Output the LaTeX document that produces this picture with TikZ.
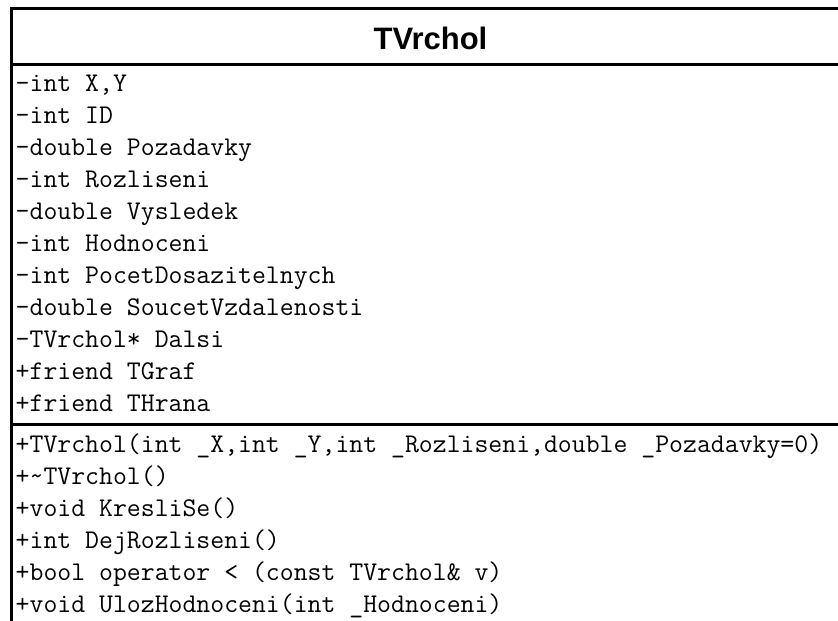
\documentclass[tikz,border=0pt]{standalone}
\usepackage{fontspec}
\newfontfamily\headfam{Liberation Sans}

\begin{document}
\begin{tikzpicture}[x=1pt,y=-1pt,
  member/.style={anchor=base west,inner sep=0pt,font={\ttfamily\fontsize{27}{32}\selectfont}},
  classname/.style={anchor=base,inner sep=0pt,font={\headfam\bfseries\fontsize{31}{36}\selectfont}},
  frame/.style={draw=black,line width=3pt}]

\useasboundingbox (0,0) rectangle (838,621);

% class box, right and bottom edges run off the picture
\begin{scope}
\clip (0,0) rectangle (838,621);
\draw[frame] (11.5,8.5) rectangle (870,660);
\draw[frame] (11.5,64) -- (870,64);
\draw[frame] (11.5,424) -- (870,424);
\end{scope}

\node[classname] (name) at (430.5,49) {TVrchol};

% attributes
\foreach \txt [count=\i] in {{-int X,Y},{-int ID},{-double Pozadavky},{-int Rozliseni},
    {-double Vysledek},{-int Hodnoceni},{-int PocetDosazitelnych},
    {-double SoucetVzdalenosti},{-TVrchol* Dalsi},{+friend TGraf},{+friend THrana}}
  \node[member] (a\i) at (15.5,{91.5+32*(\i-1)}) {\txt};

% methods
\foreach \txt [count=\i] in {{+TVrchol(int \_X,int \_Y,int \_Rozliseni,double \_Pozadavky=0)},
    {+\textasciitilde TVrchol()},{+void KresliSe()},{+int DejRozliseni()},
    {+bool operator < (const TVrchol\& v)},{+void UlozHodnoceni(int \_Hodnoceni)}}
  \node[member] (m\i) at (15.5,{452+32*(\i-1)}) {\txt};

\end{tikzpicture}
\end{document}
